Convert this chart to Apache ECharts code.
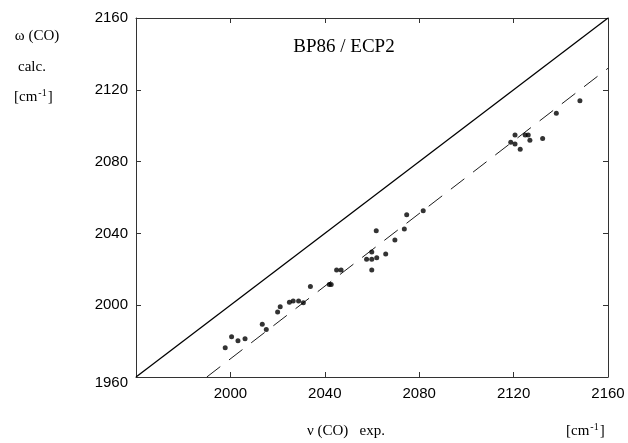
<!DOCTYPE html>
<html>
<head>
<meta charset="utf-8">
<script src="https://cdn.jsdelivr.net/npm/echarts@6/dist/echarts.min.js"></script>
<style>
html, body { margin: 0; padding: 0; background: #fff; }
#chart { width: 628px; height: 443px; }
</style>
</head>
<body>
<div id="chart"></div>
<script>
var expX = [1997.8, 2000.5, 2003.2, 2006.2, 2013.5, 2015.2, 2020.0, 2021.1, 2025.0, 2026.6,
	2028.9, 2030.9, 2033.9, 2041.9, 2042.7, 2045.0, 2046.9, 2057.7, 2059.9, 2059.9,
	2059.9, 2061.8, 2062.0, 2065.8, 2069.7, 2073.7, 2074.7, 2081.7, 2118.8, 2120.6,
	2120.6, 2122.8, 2124.9, 2126.2, 2126.9, 2132.3, 2138.1, 2148.1];
var calcY = [1976.3, 1982.4, 1980.2, 1981.3, 1989.4, 1986.4, 1996.2, 1999.2, 2001.6, 2002.3,
	2002.3, 2001.4, 2010.4, 2011.6, 2011.6, 2019.6, 2019.6, 2025.6, 2025.6, 2019.6,
	2029.6, 2041.5, 2026.5, 2028.5, 2036.3, 2042.5, 2050.4, 2052.6, 2090.8, 2094.8,
	2089.8, 2086.9, 2094.8, 2094.8, 2091.9, 2092.8, 2106.9, 2113.9];
// y = x line and the dashed regression line
var diagX = [1960, 2160];
var diagY = [1960, 2160];
var fitX = [1990, 2160];
var fitY = [1960, 2132];
var tickVals = [1960, 2000, 2040, 2080, 2120, 2160];

var serif = "'Liberation Serif', 'Times New Roman', serif";
var sans = "'Liberation Sans', Arial, sans-serif";

function pairs(xs, ys) {
	var out = [];
	for (var i = 0; i < xs.length; i++) out.push([xs[i], ys[i]]);
	return out;
}

var chart = echarts.init(document.getElementById('chart'));

var boxAxis = {
	type: 'value',
	min: tickVals[0],
	max: tickVals[tickVals.length - 1],
	interval: 40,
	splitLine: { show: false },
	axisLine: { show: true, lineStyle: { color: '#333', width: 1 } },
	axisTick: { show: true, inside: true, length: 5, lineStyle: { color: '#333' } }
};

option = {
	animation: false,
	grid: { left: 136, right: 20, top: 18, bottom: 66 },
	xAxis: [
		Object.assign({}, boxAxis, {
			position: 'bottom',
			axisLabel: {
				show: true, showMinLabel: false, margin: 9,
				color: '#000', fontFamily: sans, fontSize: 15,
				formatter: function (v) { return '' + v; }
			}
		}),
		Object.assign({}, boxAxis, { position: 'top', axisLabel: { show: false } })
	],
	yAxis: [
		Object.assign({}, boxAxis, {
			position: 'left',
			axisLabel: {
				show: true, margin: 8, color: '#000', fontFamily: sans, fontSize: 15,
				formatter: function (v) {
					return v === 1960 ? '{lo|' + v + '}' : '' + v;
				},
				rich: { lo: { fontFamily: sans, fontSize: 15, color: '#000', padding: [12, 0, 0, 0] } }
			}
		}),
		Object.assign({}, boxAxis, { position: 'right', axisLabel: { show: false } })
	],
	graphic: [
		{ type: 'text', x: 344, y: 47, style: { text: 'BP86 / ECP2', font: '19px ' + serif, fill: '#000', align: 'center', verticalAlign: 'middle' } },
		{ type: 'text', x: 37, y: 36, style: { text: 'ω (CO)', font: '15px ' + serif, fill: '#000', align: 'center', verticalAlign: 'middle' } },
		{ type: 'text', x: 32, y: 67, style: { text: 'calc.', font: '15px ' + serif, fill: '#000', align: 'center', verticalAlign: 'middle' } },
		{ type: 'text', x: 14, y: 97, style: {
			text: '[cm{s|-1}]', font: '15px ' + serif, fill: '#000', verticalAlign: 'middle',
			rich: { s: { fontFamily: serif, fontSize: 10, verticalAlign: 'top', padding: [0, 1, 8, 1] } }
		} },
		{ type: 'text', x: 307, y: 431, style: { text: 'ν (CO)   exp.', font: '15px ' + serif, fill: '#000', verticalAlign: 'middle' } },
		{ type: 'text', x: 566, y: 431, style: {
			text: '[cm{s|-1}]', font: '15px ' + serif, fill: '#000', verticalAlign: 'middle',
			rich: { s: { fontFamily: serif, fontSize: 10, verticalAlign: 'top', padding: [0, 1, 8, 1] } }
		} }
	],
	series: [
		{
			type: 'line',
			data: pairs(diagX, diagY),
			symbol: 'none',
			lineStyle: { color: '#000', width: 1.3 },
			z: 2
		},
		{
			type: 'line',
			data: pairs(fitX, fitY),
			symbol: 'none',
			lineStyle: { color: '#000', width: 0.9, type: [17, 11] },
			z: 2
		},
		{
			type: 'scatter',
			data: pairs(expX, calcY),
			symbol: 'circle',
			symbolSize: 5,
			itemStyle: { color: '#000' },
			z: 3
		}
	]
};
chart.setOption(option);
</script>
</body>
</html>
